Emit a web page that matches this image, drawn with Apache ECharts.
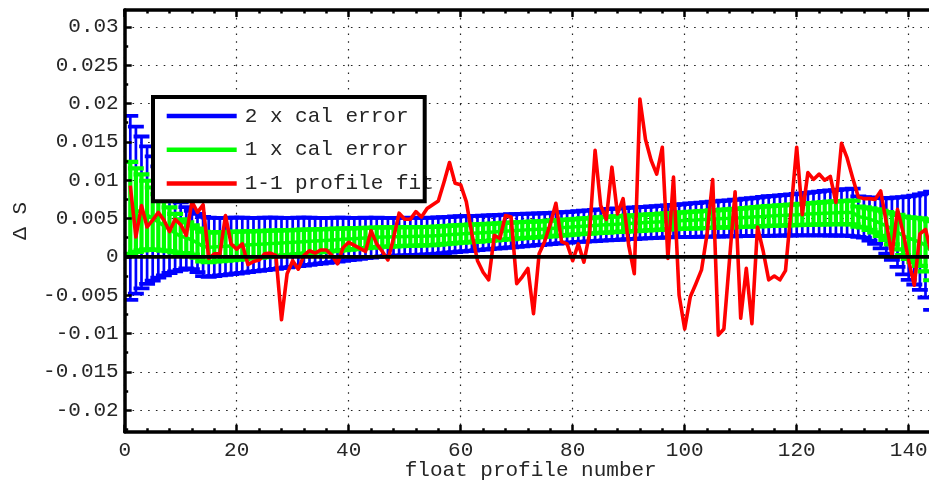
<!DOCTYPE html>
<html>
<head>
<meta charset="utf-8">
<script src="https://cdn.jsdelivr.net/npm/echarts@6/dist/echarts.min.js"></script>
<style>
html,body{margin:0;padding:0;background:#fff;}
#c{width:929px;height:484px;}
</style>
</head>
<body>
<div id="c"></div>
<script>
// ---------------- data ----------------
const profiles = [];
for (let i = 1; i <= 144; i++) profiles.push(i);

// centre of the error bars
const center = [
0.0064,0.0061,0.0058,0.00545,0.0050,0.00455,0.00405,0.0036,0.0031,0.0027,
0.0025,0.0022,0.0018,0.00135,0.00125,0.0013,0.00134,0.00138,0.00143,0.00147,
0.00151,0.00156,0.0016,0.00164,0.00169,0.00173,0.00177,0.00182,0.00186,0.0019,
0.00195,0.00199,0.00203,0.00208,0.00212,0.00216,0.0022,0.00225,0.00229,0.00234,
0.00238,0.00242,0.00247,0.0025,0.00255,0.00258,0.0026,0.00262,0.00264,0.00265,
0.00267,0.00268,0.0027,0.00271,0.00273,0.00278,0.00284,0.00289,0.00295,0.0030,
0.00304,0.00308,0.00312,0.00316,0.0032,0.00325,0.0033,0.00335,0.0034,0.00345,
0.00349,0.00353,0.00357,0.00361,0.00365,0.0037,0.00375,0.0038,0.00385,0.0039,
0.00395,0.0040,0.00405,0.0041,0.00415,0.00419,0.00423,0.00427,0.00431,0.00435,
0.00439,0.00443,0.00447,0.00451,0.00455,0.00459,0.00463,0.00467,0.00471,0.00475,
0.00479,0.00482,0.00486,0.00489,0.00493,0.00496,0.0050,0.00503,0.00507,0.0051,
0.00515,0.00519,0.00524,0.00528,0.00533,0.00536,0.0054,0.00543,0.00547,0.0055,
0.00554,0.00558,0.00562,0.00566,0.0057,0.00573,0.00575,0.00578,0.0058,0.0058,
0.00525,0.00515,0.00493,0.0047,0.00438,0.00403,0.00365,0.00323,0.00275,0.00245,
0.0022,0.00193,0.0015,0.0008
];

// calibration error (1x)
const calErr = [
0.0060,0.00545,0.00495,0.00448,0.00405,0.00363,0.00323,0.00285,0.0025,0.0022,
0.0020,0.0019,0.0019,0.00193,0.00193,0.0019,0.00188,0.00186,0.00184,0.00182,
0.0018,0.00177,0.00175,0.00173,0.00171,0.00169,0.00167,0.00164,0.00162,0.0016,
0.00158,0.00156,0.00154,0.00151,0.00149,0.00147,0.00145,0.00143,0.00141,0.00138,
0.00136,0.00134,0.00132,0.0013,0.00128,0.00126,0.00125,0.00124,0.00123,0.00122,
0.00122,0.00121,0.0012,0.00119,0.00119,0.00118,0.00117,0.00116,0.00116,0.00115,
0.00114,0.00113,0.00112,0.00111,0.0011,0.00109,0.00109,0.00108,0.00108,0.00107,
0.00106,0.00105,0.00104,0.00103,0.00102,0.00102,0.00101,0.00101,0.0010,0.0010,
0.0010,0.00101,0.00101,0.00102,0.00102,0.00102,0.00102,0.00102,0.00102,0.00102,
0.00103,0.00103,0.00103,0.00103,0.00103,0.00104,0.00104,0.00105,0.00106,0.00107,
0.00109,0.0011,0.00111,0.00112,0.00114,0.00115,0.00116,0.00117,0.00119,0.0012,
0.00122,0.00123,0.00125,0.00127,0.00129,0.0013,0.00131,0.00132,0.00134,0.00135,
0.00137,0.00139,0.00141,0.00143,0.00145,0.00147,0.00148,0.0015,0.00152,0.00155,
0.00132,0.00132,0.00141,0.0015,0.00164,0.00181,0.00202,0.00226,0.00252,0.00272,
0.0029,0.00311,0.0034,0.00385
];

// 1-1 profile fit
const fitValues = [
0.0093,0.0026,0.0067,0.0039,0.0048,0.0058,0.0048,0.0033,0.0049,0.0042,
0.0028,0.0072,0.0058,0.0068,-0.0002,0.0004,0.0004,0.0054,0.0017,0.0010,
0.0017,-0.0010,-0.0006,-0.0004,0.0004,0.0005,0.0002,-0.0082,-0.0022,-0.0005,
-0.0016,0.0002,0.0008,0.0005,0.0009,0.0009,0.0002,-0.0009,0.0012,0.0019,
0.0015,0.0011,0.0007,0.0034,0.0017,0.0007,-0.0004,0.0024,0.0057,0.0049,
0.0049,0.0059,0.0052,0.0063,0.0068,0.0073,0.0097,0.0123,0.0096,0.0094,
0.0072,0.0030,-0.0005,-0.0020,-0.0030,0.0028,0.0024,0.0054,0.0052,-0.0035,
-0.0026,-0.0015,-0.0074,0.0004,0.0020,0.0043,0.0070,0.0020,0.0017,-0.0005,
0.0017,-0.0007,0.0030,0.0139,0.0067,0.0049,0.0117,0.0056,0.0076,0.0015,
-0.0022,0.0206,0.0153,0.0126,0.0108,0.0143,-0.0002,0.0104,-0.0050,-0.0094,
-0.0052,-0.0035,-0.0017,0.0030,0.0101,-0.0102,-0.0094,-0.0004,0.0085,-0.0080,
-0.0015,-0.0087,0.0039,0.0008,-0.0030,-0.0025,-0.0030,-0.0018,0.0062,0.0143,
0.0055,0.0110,0.0101,0.0108,0.0100,0.0105,0.0071,0.0148,0.0129,0.0103,
0.0078,0.0076,0.0076,0.0075,0.0086,0.0045,0.0002,0.0062,0.0032,-0.0005,
-0.0037,0.0030,0.0036,0.0006
];

const seriesNames = ['2 x cal error', '1 x cal error', '1-1 profile fit'];
const xTicks = [0, 20, 40, 60, 80, 100, 120, 140];
const xMinorTicks = [4,8,12,16,24,28,32,36,44,48,52,56,64,68,72,76,84,88,92,96,104,108,112,116,124,128,132,136,144];
const yTicks = [-0.02,-0.015,-0.01,-0.005,0,0.005,0.01,0.015,0.02,0.025,0.03];
const yMinorTicks = [-0.0225,-0.0175,-0.0125,-0.0075,-0.0025,0.0025,0.0075,0.0125,0.0175,0.0225,0.0275];
const xRange = [0, 145];
const yRange = [-0.0228, 0.0322];
const capHalfWidth = 1.42;

// ---------------- build ----------------
const FONT = 'Liberation Mono';
const TXT = '#262626';

function bars(k) {
  return profiles.map((p, i) => [p, center[i] - k * calErr[i], center[i] + k * calErr[i]]);
}
function errRender(color, vw, cw) {
  return function (params, api) {
    const x = api.value(0), lo = api.value(1), hi = api.value(2);
    const a = api.coord([x, hi]), b = api.coord([x, lo]);
    const h = api.size([capHalfWidth, 0])[0];
    const st = { stroke: color, lineWidth: vw };
    const sc = { stroke: color, lineWidth: cw };
    return { type: 'group', children: [
      { type: 'line', shape: { x1: a[0], y1: a[1], x2: b[0], y2: b[1] }, style: st },
      { type: 'line', shape: { x1: a[0] - h, y1: a[1], x2: a[0] + h, y2: a[1] }, style: sc },
      { type: 'line', shape: { x1: b[0] - h, y1: b[1], x2: b[0] + h, y2: b[1] }, style: sc }
    ]};
  };
}

const chart = echarts.init(document.getElementById('c'), null, { renderer: 'canvas' });

const dotted = { color: '#222', width: 1.2, type: [1.6, 6.2] };
function xAx(extra) {
  return Object.assign({ type: 'value', min: xRange[0], max: xRange[1], position: 'bottom',
    axisLine: { show: false, onZero: false }, axisTick: { show: false },
    axisLabel: { show: false }, splitLine: { show: false } }, extra);
}
function yAx(extra) {
  return Object.assign({ type: 'value', min: yRange[0], max: yRange[1], position: 'left',
    axisLine: { show: false, onZero: false }, axisTick: { show: false },
    axisLabel: { show: false }, splitLine: { show: false } }, extra);
}
const lineStyleAx = { show: true, onZero: false, lineStyle: { color: '#000', width: 3.5 } };

const option = {
  animation: false,
  backgroundColor: '#fff',
  grid: { left: 124.7, top: 10, width: 812, height: 421.7, containLabel: false, outerBoundsMode: 'none' },
  xAxis: [
    xAx({ axisTick: { show: false, customValues: xTicks },
          axisLabel: { show: true, customValues: xTicks, margin: 8, fontFamily: FONT, fontSize: 21, color: TXT, hideOverlap: false },
          splitLine: { show: true, lineStyle: dotted },
          name: 'float profile number', nameLocation: 'middle', nameGap: 28, nameMoveOverlap: false,
          nameTextStyle: { fontFamily: FONT, fontSize: 21, color: TXT } }),
    xAx({ z: 10, axisLine: lineStyleAx, axisTick: { show: true, inside: true, length: 7, customValues: xTicks, lineStyle: { color: '#000', width: 2.5 } } }),
    xAx({ z: 10, axisTick: { show: true, inside: true, length: 3.5, customValues: xMinorTicks, lineStyle: { color: '#000', width: 2.5 } } }),
    xAx({ z: 10, position: 'top', axisLine: lineStyleAx, axisTick: { show: true, inside: true, length: 7, customValues: xTicks, lineStyle: { color: '#000', width: 2.5 } } }),
    xAx({ z: 10, position: 'top', axisTick: { show: true, inside: true, length: 3.5, customValues: xMinorTicks, lineStyle: { color: '#000', width: 2.5 } } })
  ],
  yAxis: [
    yAx({ axisTick: { show: false, customValues: yTicks },
          axisLabel: { show: true, customValues: yTicks, margin: 6, fontFamily: FONT, fontSize: 21, color: TXT, hideOverlap: false,
                       formatter: v => String(+Number(v).toFixed(4)) },
          splitLine: { show: true, lineStyle: dotted },
          name: 'Δ S', nameLocation: 'middle', nameGap: 94, nameMoveOverlap: false,
          nameTextStyle: { fontFamily: FONT, fontSize: 21, color: TXT } }),
    yAx({ z: 10, axisLine: lineStyleAx, axisTick: { show: true, inside: true, length: 7, customValues: yTicks, lineStyle: { color: '#000', width: 2.5 } } }),
    yAx({ z: 10, axisTick: { show: true, inside: true, length: 3.5, customValues: yMinorTicks, lineStyle: { color: '#000', width: 2.5 } } })
  ],
  legend: {
    orient: 'vertical', left: 166.7, top: 105.5, padding: 0,
    itemWidth: 70, itemHeight: 4.5, itemGap: 12.7, z: 50,
    textStyle: { fontFamily: FONT, fontSize: 21, lineHeight: 21, color: TXT, padding: [0, 0, 0, 3] },
    data: [
      { name: seriesNames[0], icon: 'rect', itemStyle: { color: '#0000ff' } },
      { name: seriesNames[1], icon: 'rect', itemStyle: { color: '#00ff00' } },
      { name: seriesNames[2], icon: 'rect', itemStyle: { color: '#ff0000' } }
    ],
    selectedMode: false
  },
  graphic: [
    { type: 'rect', z: 40, shape: { x: 153, y: 97, width: 271.7, height: 104.3 }, style: { fill: '#fff', stroke: null } },
    { type: 'rect', z: 60, shape: { x: 153, y: 97, width: 271.7, height: 104.3 }, style: { fill: null, stroke: '#000', lineWidth: 4 } }
  ],
  series: [
    { name: seriesNames[0], type: 'custom', z: 2, clip: true, silent: true,
      itemStyle: { color: '#0000ff' },
      renderItem: errRender('#0000ff', 2.7, 3.8), encode: { x: 0, y: [1, 2] }, data: bars(2) },
    { name: seriesNames[1], type: 'custom', z: 3, clip: true, silent: true,
      itemStyle: { color: '#00ff00' },
      renderItem: errRender('#00ff00', 4.2, 4.2), encode: { x: 0, y: [1, 2] }, data: bars(1) },
    { name: 'centre', type: 'line', z: 3, silent: true, symbol: 'none', clip: true,
      lineStyle: { color: '#00ff00', width: 3.5 },
      data: profiles.map((p, i) => [p, center[i]]) },
    { name: seriesNames[2], type: 'line', z: 4, silent: true, symbol: 'none', clip: true,
      itemStyle: { color: '#ff0000' },
      lineStyle: { color: '#ff0000', width: 3.6, join: 'round' },
      data: profiles.map((p, i) => [p, fitValues[i]]) },
    { name: 'zero', type: 'line', z: 5, silent: true, symbol: 'none',
      lineStyle: { color: '#000', width: 3.8 },
      data: [[xRange[0], 0], [xRange[1], 0]] }
  ]
};
chart.setOption(option);
</script>
</body>
</html>
